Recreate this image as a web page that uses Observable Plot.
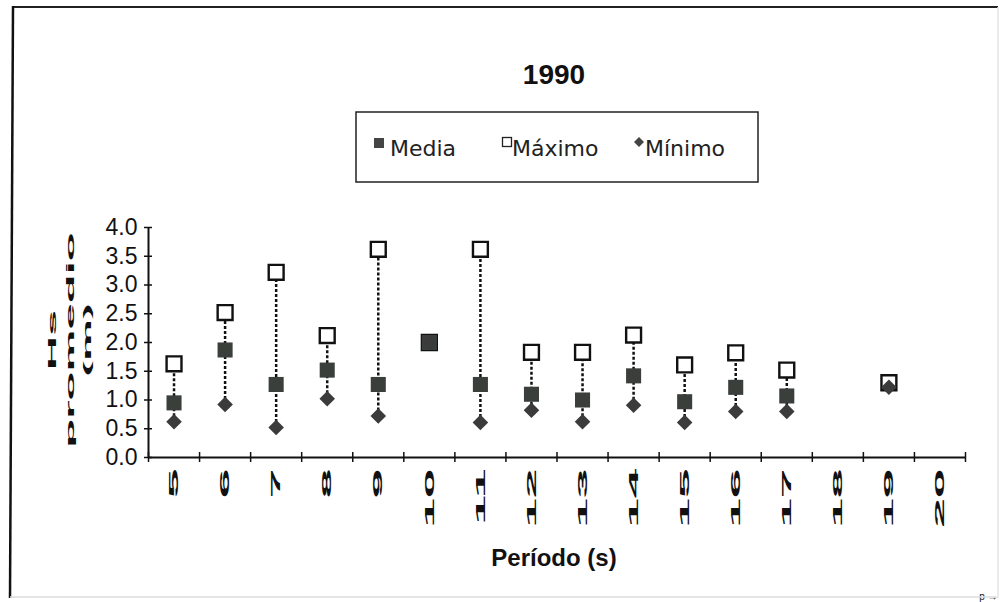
<!DOCTYPE html>
<html><head><meta charset="utf-8">
<script src="https://cdn.jsdelivr.net/npm/d3@7"></script>
<script src="https://cdn.jsdelivr.net/npm/@observablehq/plot@0.6"></script>
<style>body{margin:0;background:#fff;overflow:hidden} #chart{width:1000px;height:602px}</style>
</head><body><div id="chart"></div>
<script>
// ---- data ----
const periods = [5, 6, 7, 8, 9, 10, 11, 12, 13, 14, 15, 16, 17, 18, 19, 20];
const media  = [0.95, 1.87, 1.27, 1.52, 1.27, 2.0, 1.27, 1.1, 1.0, 1.42, 0.97, 1.22, 1.07, null, null, null];
const maximo = [1.63, 2.52, 3.22, 2.12, 3.62, 2.0, 3.62, 1.83, 1.83, 2.13, 1.61, 1.82, 1.52, null, 1.3, null];
const minimo = [0.62, 0.92, 0.52, 1.02, 0.72, 2.0, 0.61, 0.82, 0.62, 0.91, 0.61, 0.8, 0.8, null, 1.22, null];
const yTicks = [0, 0.5, 1, 1.5, 2, 2.5, 3, 3.5, 4];
const xEdges = [4.5, 5.5, 6.5, 7.5, 8.5, 9.5, 10.5, 11.5, 12.5, 13.5, 14.5, 15.5, 16.5, 17.5, 18.5, 19.5, 20.5];
const titleText = "1990";
const xLabel = "Período (s)";
const yLabelLines = ["Hs", "promedio", "(m)"];
const legendItems = ["Media", "Máximo", "Mínimo"];

const rows = periods.map((p, i) => ({p, media: media[i], max: maximo[i], min: minimo[i]}));
const withRange = rows.filter(d => d.max != null && d.min != null && d.max > d.min);

const plot = Plot.plot({
  width: 1000, height: 602,
  marginTop: 227, marginBottom: 145, marginLeft: 148, marginRight: 35,
  style: {fontFamily: "'Liberation Sans', Arial, sans-serif", background: "white", color: "#111"},
  x: {type: "linear", domain: [4.5, 20.5], axis: null},
  y: {domain: [0, 4], axis: null},
  marks: [
    Plot.ruleX(withRange, {x: "p", y1: "min", y2: "max", stroke: "#111", strokeWidth: 2.5, strokeDasharray: "3,2"}),
    Plot.ruleX([4.5], {stroke: "#111", strokeWidth: 2}),
    Plot.ruleY([0], {stroke: "#111", strokeWidth: 2}),
    Plot.axisY({ticks: yTicks, tickSize: 8, dx: 4, tickFormat: () => "", strokeWidth: 1.5}),
    Plot.axisX({ticks: xEdges, tickSize: 10, dy: -5, tickFormat: () => "", strokeWidth: 1.5}),
    Plot.axisY({ticks: yTicks, tickSize: 0, tickPadding: 11, tickFormat: d => d.toFixed(1), fontSize: 23, fill: "#111"}),
    Plot.text(periods, {x: d => d, text: d => String(d), frameAnchor: "bottom", dy: 11, rotate: -90,
      textAnchor: "end", lineAnchor: "middle", fontSize: 13, fontWeight: "bold", fill: "#111"}),
    Plot.dot(rows.filter(d => d.max != null), {x: "p", y: "max", symbol: "square", r: 8.4, fill: "white", stroke: "#111", strokeWidth: 2.4}),
    Plot.dot(rows.filter(d => d.media != null), {x: "p", y: "media", symbol: "square", r: 8.5, fill: "#3a3f3c"}),
    Plot.dot(rows.filter(d => d.min != null), {x: "p", y: "min", symbol: "diamond2", r: 7, fill: "#3b3b3b"})
  ]
});

const svg = d3.select(plot);
// stretch the rotated tick labels along their text direction
svg.selectAll("text").each(function() {
  const t = this.getAttribute("transform") || "";
  if (t.includes("rotate(-90)")) this.setAttribute("transform", t + " scale(4.1,1)");
});

// border of the figure
svg.append("line").attr("x1", 13).attr("y1", 7).attr("x2", 998).attr("y2", 7).attr("stroke", "#222").attr("stroke-width", 2);
svg.append("line").attr("x1", 13).attr("y1", 6).attr("x2", 10).attr("y2", 598).attr("stroke", "#111").attr("stroke-width", 2.5);
svg.append("line").attr("x1", 10).attr("y1", 597).attr("x2", 998).attr("y2", 597).attr("stroke", "#ddd").attr("stroke-width", 1.5);
svg.append("line").attr("x1", 998).attr("y1", 7).attr("x2", 998).attr("y2", 597).attr("stroke", "#e4e4e4").attr("stroke-width", 1.5);

// title
svg.append("text").attr("x", 554).attr("y", 84).attr("text-anchor", "middle")
  .attr("font-size", 28).attr("font-weight", "bold").attr("fill", "#111")
  .attr("font-family", "'Liberation Sans Narrow','Liberation Sans',sans-serif")
  .text(titleText);

// legend
svg.append("rect").attr("x", 356).attr("y", 112).attr("width", 402).attr("height", 70)
  .attr("fill", "white").attr("stroke", "#222").attr("stroke-width", 1.5);
const lg = svg.append("g").attr("font-family", "'DejaVu Sans',Verdana,sans-serif").attr("font-size", 22)
  .attr("fill", "#222").attr("text-anchor", "start");
lg.append("rect").attr("x", 374).attr("y", 138).attr("width", 10).attr("height", 10).attr("fill", "#444");
lg.append("text").attr("x", 390).attr("y", 156).attr("text-anchor", "start").text(legendItems[0]);
lg.append("rect").attr("x", 502.5).attr("y", 137.5).attr("width", 9).attr("height", 9).attr("fill", "white").attr("stroke", "#222").attr("stroke-width", 1.3);
lg.append("text").attr("x", 512).attr("y", 156).attr("text-anchor", "start").text(legendItems[1]);
lg.append("path").attr("d", "M639,137 L644,142 L639,147 L634,142 Z").attr("fill", "#444");
lg.append("text").attr("x", 645).attr("y", 156).attr("text-anchor", "start").text(legendItems[2]);

// y label (rotated, stretched)
const yx = [52, 70, 87];
yLabelLines.forEach((s, i) => {
  svg.append("text").attr("transform", `translate(${yx[i]},340) rotate(-90) scale(4.3,1)`)
    .attr("text-anchor", "middle").attr("dominant-baseline", "central")
    .attr("font-size", 11).attr("font-weight", "bold").attr("fill", "#111")
    .attr("font-family", "'Liberation Sans',Arial,sans-serif").text(s);
});

// x label
svg.append("text").attr("x", 554).attr("y", 566).attr("text-anchor", "middle")
  .attr("font-size", 24).attr("font-weight", "bold").attr("fill", "#111")
  .attr("font-family", "'Liberation Sans',Arial,sans-serif").text(xLabel);

document.getElementById("chart").appendChild(plot);
</script>
</body></html>
